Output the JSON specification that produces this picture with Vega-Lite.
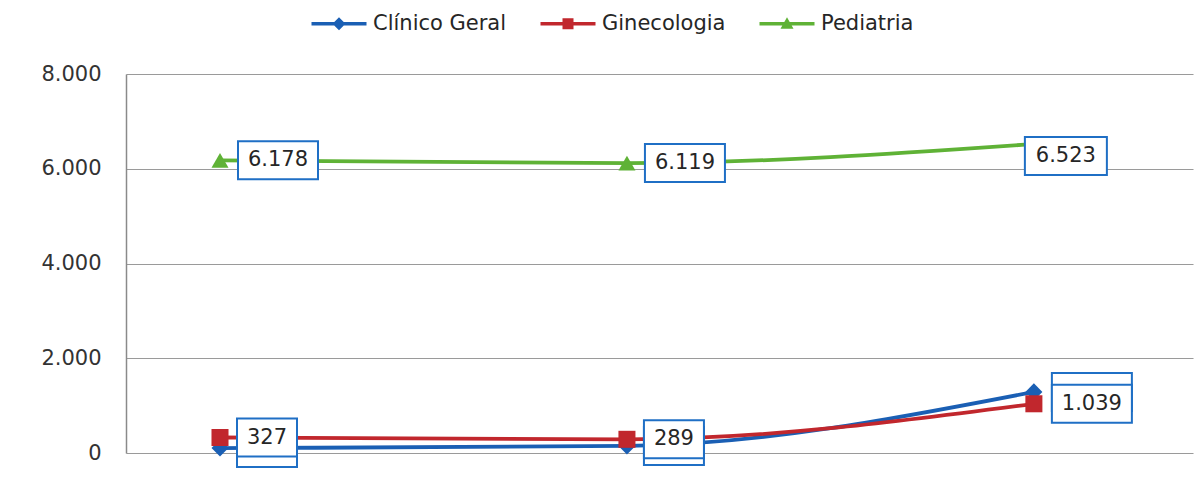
{
  "$schema": "https://vega.github.io/schema/vega-lite/v6.json",
  "width": 1067,
  "height": 379,
  "autosize": {"type": "none"},
  "padding": {"left": 126, "top": 74, "right": 7, "bottom": 32},
  "background": "white",
  "config": {
    "locale": {"number": {"decimal": ",", "thousands": ".", "grouping": [3], "currency": ["R$", ""]}},
    "view": {"stroke": null},
    "font": "DejaVu Sans"
  },
  "data": {
    "values": [
      {"serie": "Clínico Geral", "ponto": 1, "valor": 105},
      {"serie": "Clínico Geral", "ponto": 2, "valor": 150},
      {"serie": "Clínico Geral", "ponto": 3, "valor": 1290},
      {"serie": "Ginecologia", "ponto": 1, "valor": 327},
      {"serie": "Ginecologia", "ponto": 2, "valor": 289},
      {"serie": "Ginecologia", "ponto": 3, "valor": 1039},
      {"serie": "Pediatria", "ponto": 1, "valor": 6178},
      {"serie": "Pediatria", "ponto": 2, "valor": 6119},
      {"serie": "Pediatria", "ponto": 3, "valor": 6523}
    ]
  },
  "encoding": {
    "x": {"field": "ponto", "type": "quantitative", "scale": {"domain": [0.769, 3.391], "nice": false, "zero": false}, "axis": null},
    "y": {
      "field": "valor", "type": "quantitative",
      "scale": {"domain": [0, 8000], "nice": false},
      "axis": {
        "values": [0, 2000, 4000, 6000, 8000], "format": ",d", "title": null,
        "grid": true, "gridColor": "#9a9a9a", "gridWidth": 1.2,
        "domainColor": "#8a8a8a", "domainWidth": 1.5, "ticks": false,
        "labelFontSize": 21, "labelColor": "#333333", "labelPadding": 25, "labelFont": "DejaVu Sans"
      }
    },
    "color": {
      "field": "serie", "type": "nominal",
      "scale": {"domain": ["Clínico Geral", "Ginecologia", "Pediatria"], "range": ["#1a5fb4", "#c1272d", "#5fb236"]},
      "legend": {
        "orient": "none", "legendX": 180, "legendY": -61, "direction": "horizontal", "title": null, "padding": 0,
        "labelFontSize": 21, "labelColor": "#262626", "labelFont": "DejaVu Sans",
        "symbolSize": 100, "labelOffset": 46, "columnPadding": 28, "symbolStrokeWidth": 0,
        "encode": {
          "symbols": {
            "update": {
              "shape": {"signal": "datum.value === 'Clínico Geral' ? 'M-1,-0.35H10V0.35H-1Z M4.5,-1.3L5.8,0L4.5,1.3L3.2,0Z' : (datum.value === 'Ginecologia' ? 'M-1,-0.35H10V0.35H-1Z M3.4,-1.1H5.6V1.1H3.4Z' : 'M-1,-0.35H10V0.35H-1Z M4.5,-1.3L5.8,1L3.2,1Z')"},
              "fill": {"scale": "color", "field": "value"},
              "stroke": {"value": "transparent"},
              "opacity": {"value": 1}
            }
          }
        }
      }
    }
  },
  "layer": [
    {
      "mark": {"type": "line", "strokeWidth": 3.8, "interpolate": "monotone"}
    },
    {
      "transform": [{"filter": "datum.serie === 'Clínico Geral'"}],
      "mark": {"type": "point", "filled": true, "size": 290, "opacity": 1, "shape": "diamond"}
    },
    {
      "transform": [{"filter": "datum.serie === 'Ginecologia'"}],
      "mark": {"type": "point", "filled": true, "size": 290, "opacity": 1, "shape": "square"}
    },
    {
      "transform": [{"filter": "datum.serie === 'Pediatria'"}],
      "mark": {"type": "point", "filled": true, "size": 290, "opacity": 1, "shape": "triangle-up"}
    },
    {
      "transform": [{"filter": "datum.valor < 1000"}],
      "mark": {"type": "rect", "fill": "white", "stroke": "#1f6fc5", "strokeWidth": 2, "xOffset": 17, "x2Offset": 77, "yOffset": -19, "y2Offset": 19},
      "encoding": {"x2": {"field": "ponto"}, "y2": {"field": "valor"}, "color": {"value": "white"}}
    },
    {
      "transform": [{"filter": "datum.valor >= 1000 && !(datum.serie === 'Pediatria' && datum.ponto === 3)"}],
      "mark": {"type": "rect", "fill": "white", "stroke": "#1f6fc5", "strokeWidth": 2, "xOffset": 18, "x2Offset": 98, "yOffset": -19, "y2Offset": 19},
      "encoding": {"x2": {"field": "ponto"}, "y2": {"field": "valor"}, "color": {"value": "white"}}
    },
    {
      "transform": [{"filter": "datum.serie === 'Pediatria' && datum.ponto === 3"}],
      "mark": {"type": "rect", "fill": "white", "stroke": "#1f6fc5", "strokeWidth": 2, "xOffset": -9, "x2Offset": 73, "yOffset": -7, "y2Offset": 31},
      "encoding": {"x2": {"field": "ponto"}, "y2": {"field": "valor"}, "color": {"value": "white"}}
    },
    {
      "transform": [{"filter": "datum.serie !== 'Clínico Geral' && datum.valor < 1000"}],
      "mark": {"type": "text", "dx": 47, "align": "center", "baseline": "middle", "fontSize": 21},
      "encoding": {"text": {"field": "valor", "type": "quantitative", "format": ",d"}, "color": {"value": "#262626"}}
    },
    {
      "transform": [{"filter": "datum.serie !== 'Clínico Geral' && datum.valor >= 1000 && !(datum.serie === 'Pediatria' && datum.ponto === 3)"}],
      "mark": {"type": "text", "dx": 58, "align": "center", "baseline": "middle", "fontSize": 21},
      "encoding": {"text": {"field": "valor", "type": "quantitative", "format": ",d"}, "color": {"value": "#262626"}}
    },
    {
      "transform": [{"filter": "datum.serie === 'Pediatria' && datum.ponto === 3"}],
      "mark": {"type": "text", "dx": 32, "dy": 12, "align": "center", "baseline": "middle", "fontSize": 21},
      "encoding": {"text": {"field": "valor", "type": "quantitative", "format": ",d"}, "color": {"value": "#262626"}}
    }
  ]
}
